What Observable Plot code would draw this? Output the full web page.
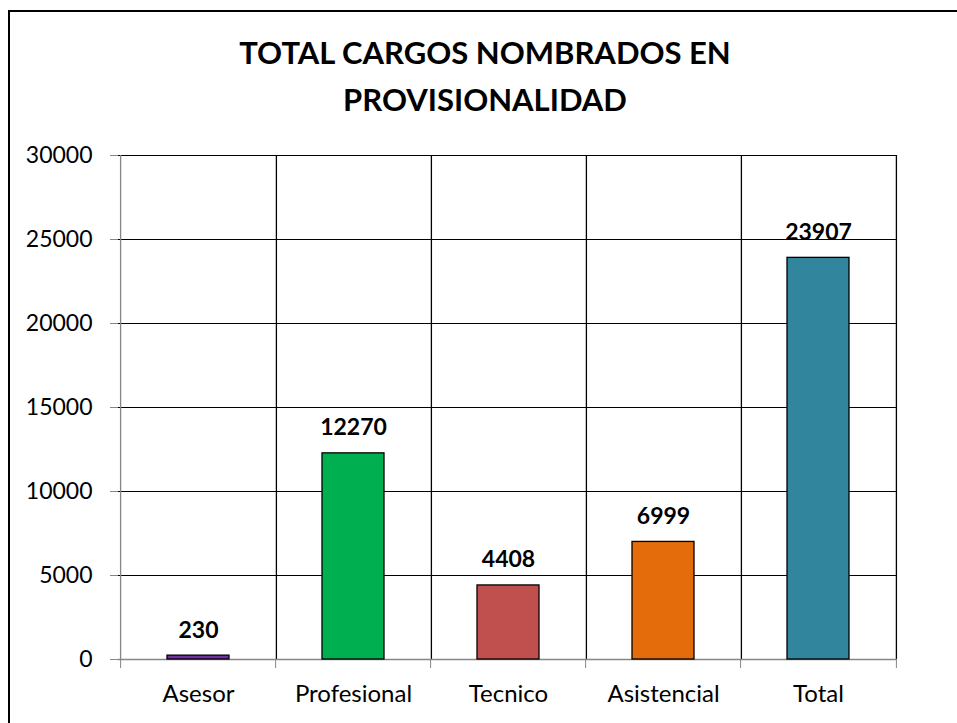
<!DOCTYPE html>
<html>
<head>
<meta charset="utf-8">
<script src="https://cdn.jsdelivr.net/npm/d3@7"></script>
<script src="https://cdn.jsdelivr.net/npm/@observablehq/plot@0.6"></script>
<style>
  html, body { margin: 0; padding: 0; background: #fff; }
  #wrap { position: relative; width: 957px; height: 723px; overflow: hidden; font-family: Lato, "Open Sans", sans-serif; }
  #border { position: absolute; left: 8px; top: 10px; width: 970px; height: 740px; border: 2px solid #000; box-sizing: border-box; }
  #title { position: absolute; left: 0; top: 29px; width: 970px; text-align: center; font-weight: bold; font-size: 31px; line-height: 47px; color: #000; }
  #chart { position: absolute; left: 0; top: 130px; }
</style>
</head>
<body>
<div id="wrap">
  <div id="border"></div>
  <div id="title">TOTAL CARGOS NOMBRADOS EN<br>PROVISIONALIDAD</div>
  <div id="chart"></div>
</div>
<script>
const categories = ["Asesor", "Profesional", "Tecnico", "Asistencial", "Total"];
const values = [230, 12270, 4408, 6999, 23907];
const colors = ["#7030A0", "#00B050", "#C0504D", "#E46C0A", "#31859C"];
const yTicks = [0, 5000, 10000, 15000, 20000, 25000, 30000];

const data = categories.map((c, i) => ({category: c, value: values[i], color: colors[i]}));

const W = 957, H = 593, mL = 118, mR = 60, mT = 25, mB = 64;
const step = (W - mL - mR) / categories.length;
const gray = "#868686";

const chart = Plot.plot({
  width: W,
  height: H,
  marginLeft: mL,
  marginRight: mR,
  marginTop: mT,
  marginBottom: mB,
  style: {fontFamily: "Lato, 'Open Sans', sans-serif", fontSize: "23px", color: "#000", background: "transparent"},
  x: {domain: categories, paddingInner: 0.6, paddingOuter: 0.3, label: null},
  y: {domain: [0, 30000], label: null},
  marks: [
    Plot.gridY(yTicks, {stroke: "#000", strokeOpacity: 1, strokeWidth: 1}),
    Plot.gridX(categories, {dx: step / 2, stroke: "#000", strokeOpacity: 1, strokeWidth: 1.3}),
    Plot.gridX([categories[0]], {dx: -step / 2, stroke: gray, strokeOpacity: 1, strokeWidth: 1.3}),
    Plot.ruleY([0], {stroke: gray, strokeWidth: 1.5}),
    Plot.axisX(categories, {dx: -step / 2, tickSize: 9, tickFormat: () => "", stroke: gray, label: null}),
    Plot.axisX([categories[categories.length - 1]], {dx: step / 2, tickSize: 9, tickFormat: () => "", stroke: gray, label: null}),
    Plot.axisX({tickSize: 0, tickPadding: 25, fontSize: 24, label: null}),
    Plot.axisY(yTicks, {tickSize: 8, tickPadding: 18, stroke: gray, fontSize: 23, label: null, tickFormat: d => String(d)}),
    Plot.barY(data, {x: "category", y: "value", fill: "color", stroke: "#000", strokeWidth: 1.3}),
    Plot.text(data, {x: "category", y: "value", text: d => String(d.value), lineAnchor: "bottom", dy: -18, fontWeight: "bold", fontSize: 23, fill: "#000"})
  ]
});
document.getElementById("chart").appendChild(chart);
</script>
</body>
</html>
